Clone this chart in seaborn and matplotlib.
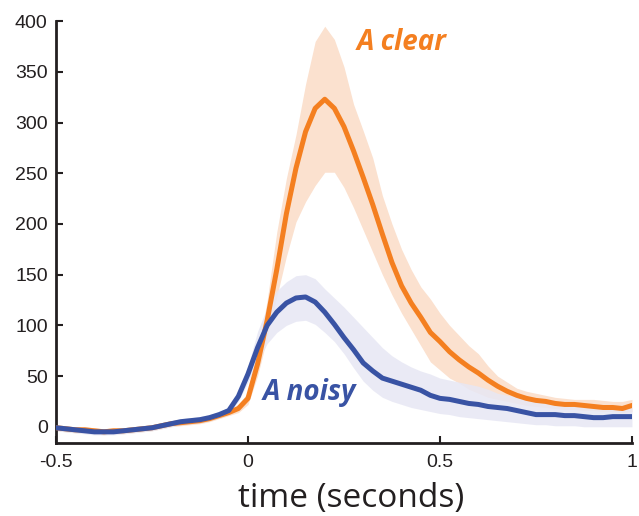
import numpy as np
import pandas as pd
import seaborn as sns
import matplotlib
matplotlib.use("Agg")
import matplotlib.pyplot as plt

# time axis (seconds), 25 ms steps
time = [-0.500, -0.475, -0.450, -0.425, -0.400, -0.375, -0.350, -0.325, -0.300, -0.275,
        -0.250, -0.225, -0.200, -0.175, -0.150, -0.125, -0.100, -0.075, -0.050, -0.025,
        0.000, 0.025, 0.050, 0.075, 0.100, 0.125, 0.150, 0.175, 0.200, 0.225,
        0.250, 0.275, 0.300, 0.325, 0.350, 0.375, 0.400, 0.425, 0.450, 0.475,
        0.500, 0.525, 0.550, 0.575, 0.600, 0.625, 0.650, 0.675, 0.700, 0.725,
        0.750, 0.775, 0.800, 0.825, 0.850, 0.875, 0.900, 0.925, 0.950, 0.975, 1.000]

# "A clear" response: mean and shaded error band
clear_mean = [-1, -2, -3, -3, -4, -5, -4, -4, -3, -2,
              -1, 1, 3, 4, 5, 6, 8, 11, 14, 18,
              28, 62, 105, 155, 210, 255, 291, 314, 323, 314,
              296, 272, 246, 219, 190, 162, 139, 122, 108, 93,
              84, 74, 66, 59, 53, 46, 40, 35, 31, 28,
              26, 25, 23, 22, 22, 21, 20, 19, 19, 18, 21]
clear_hi = [2, 1, 0, 0, -1, -2, -1, -1, 0, 1,
            2, 4, 6, 7, 8, 9, 11, 14, 17, 22,
            34, 72, 125, 192, 245, 288, 338, 380, 395, 382,
            355, 318, 292, 265, 228, 200, 175, 155, 138, 126,
            112, 100, 90, 80, 72, 60, 50, 44, 38, 35,
            33, 31, 29, 28, 27, 27, 27, 26, 25, 25, 27]
clear_lo = [-4, -5, -6, -6, -7, -8, -7, -7, -6, -5,
            -4, -2, 0, 1, 2, 3, 5, 8, 11, 14,
            22, 50, 88, 128, 168, 202, 222, 238, 251, 251,
            236, 216, 194, 172, 150, 130, 112, 96, 80, 64,
            56, 48, 43, 37, 33, 29, 27, 25, 23, 21,
            20, 19, 18, 17, 17, 16, 16, 15, 15, 14, 15]

# "A noisy" response: mean and shaded error band
noisy_mean = [-1, -2, -3, -4, -5, -5, -5, -4, -3, -2,
              -1, 1, 3, 5, 6, 7, 9, 12, 16, 30,
              52, 78, 100, 113, 122, 127, 128, 123, 113, 101,
              88, 76, 63, 55, 48, 45, 42, 39, 36, 31,
              28, 27, 25, 23, 22, 20, 19, 18, 16, 14,
              12, 12, 12, 11, 11, 10, 9, 9, 10, 10, 10]
noisy_hi = [2, 1, 0, -1, -2, -2, -2, -1, 0, 1,
            2, 4, 6, 8, 9, 10, 12, 15, 19, 34,
            60, 94, 118, 134, 143, 149, 150, 146, 136, 127,
            118, 108, 98, 88, 78, 70, 64, 59, 55, 52,
            48, 46, 44, 42, 40, 37, 33, 31, 30, 28,
            26, 25, 24, 23, 22, 21, 20, 20, 19, 19, 19]
noisy_lo = [-4, -5, -6, -7, -8, -8, -8, -7, -6, -5,
            -4, -2, 0, 2, 3, 4, 6, 9, 13, 25,
            44, 64, 82, 93, 100, 104, 105, 101, 93, 84,
            72, 58, 45, 36, 29, 25, 22, 19, 17, 15,
            13, 12, 10, 9, 8, 7, 6, 5, 4, 3,
            2, 2, 1, 1, 1, 0, 0, 0, 0, 0, 0]

y_ticks = [0, 50, 100, 150, 200, 250, 300, 350, 400]
x_ticks = [-0.5, 0, 0.5, 1]
x_tick_labels = ["-0.5", "0", "0.5", "1"]

orange = "#F47F20"
blue = "#3953A4"
orange_band = "#FBE1CF"
blue_band = "#E7E7F4"
ink = "#231F20"

sns.set_theme(style="ticks")
plt.rcParams["font.family"] = ["Liberation Sans", "DejaVu Sans"]

df = pd.concat([
    pd.DataFrame({"time": time, "response": clear_mean, "condition": "A clear"}),
    pd.DataFrame({"time": time, "response": noisy_mean, "condition": "A noisy"}),
])

fig = plt.figure(figsize=(6.39, 5.16), dpi=100)
ax = fig.add_axes([0.0876, 0.1415, 0.9014, 0.8175])

ax.fill_between(time, clear_lo, clear_hi, color=orange_band, lw=0, zorder=1)
ax.fill_between(time, noisy_lo, noisy_hi, color=blue_band, lw=0, alpha=0.85, zorder=2)

sns.lineplot(data=df, x="time", y="response", hue="condition",
             palette={"A clear": orange, "A noisy": blue},
             hue_order=["A clear", "A noisy"],
             linewidth=3.6, legend=False, ax=ax, zorder=3)
# keep the noisy trace on top of the clear one
for line in ax.lines:
    if line.get_color() == blue:
        line.set_zorder(4)
    line.set_solid_joinstyle("round")

ax.set_xlim(-0.5, 1.0)
ax.set_ylim(-16, 400)
ax.set_yticks(y_ticks)
ax.set_xticks(x_ticks)
ax.set_xticklabels(x_tick_labels)
ax.tick_params(direction="in", length=5, width=1.5, colors=ink,
               labelsize=14, pad=6)
ax.tick_params(axis="x", pad=8)
for side in ("top", "right"):
    ax.spines[side].set_visible(False)
for side in ("left", "bottom"):
    ax.spines[side].set_linewidth(2)
    ax.spines[side].set_color(ink)

ax.set_ylabel("")
ax.set_xlabel("time (seconds)", fontsize=24, color=ink,
              family=["Open Sans", "DejaVu Sans"])
ax.xaxis.set_label_coords(0.512, -0.093)

ax.text(0.401, 379, "A clear", color=orange, fontsize=20, fontweight="bold",
        fontstyle="italic", family=["Open Sans", "DejaVu Sans"],
        ha="center", va="center")
ax.text(0.161, 34, "A noisy", color=blue, fontsize=20, fontweight="bold",
        fontstyle="italic", family=["Open Sans", "DejaVu Sans"],
        ha="center", va="center")

fig.savefig("out.png", dpi=100)
